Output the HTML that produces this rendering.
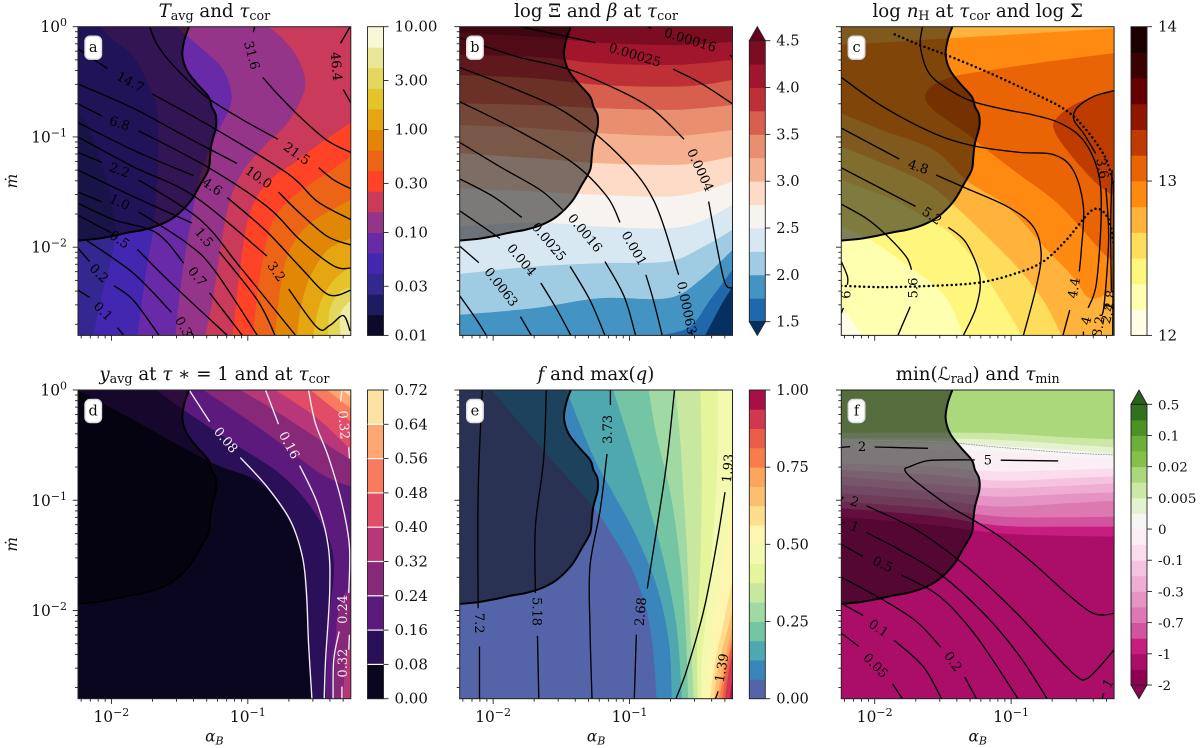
<!DOCTYPE html>
<html lang="en">
<head>
<meta charset="utf-8">
<title>Six-panel contour chart</title>
<style>
html,body{margin:0;padding:0;background:#fff}
svg{display:block;font-family:"DejaVu Serif","Liberation Serif",serif;fill:#111}
.ttl{font-size:18.2px;text-anchor:middle}
.sub{font-size:12.7px}
.it{font-style:italic}
</style>
</head>
<body>
<svg id="fig" xmlns="http://www.w3.org/2000/svg" width="1200" height="748" viewBox="0 0 1200 748">
<defs id="defs"></defs>
<g id="plots"></g>
<text class="ttl" x="214.4" y="17"><tspan class="it">T</tspan><tspan class="sub" dy="3">avg</tspan><tspan dy="-3"> and </tspan><tspan class="it">τ</tspan><tspan class="sub" dy="3">cor</tspan></text>
<text class="ttl" x="596" y="17">log Ξ and <tspan class="it">β</tspan> at <tspan class="it">τ</tspan><tspan class="sub" dy="3">cor</tspan></text>
<text class="ttl" x="977.7" y="17">log <tspan class="it">n</tspan><tspan class="sub" dy="3">H</tspan><tspan dy="-3"> at </tspan><tspan class="it">τ</tspan><tspan class="sub" dy="3">cor</tspan><tspan dy="-3"> and log Σ</tspan></text>
<text class="ttl" x="214.4" y="380"><tspan class="it">y</tspan><tspan class="sub" dy="3">avg</tspan><tspan dy="-3"> at </tspan><tspan class="it">τ</tspan> ∗ = 1 and at <tspan class="it">τ</tspan><tspan class="sub" dy="3">cor</tspan></text>
<text class="ttl" x="596" y="380"><tspan class="it">f</tspan> and max(<tspan class="it">q</tspan>)</text>
<text class="ttl" x="977.7" y="380">min(ℒ<tspan class="sub" dy="3">rad</tspan><tspan dy="-3">) and </tspan><tspan class="it">τ</tspan><tspan class="sub" dy="3">min</tspan></text>
</svg>
<script>
/* ---------- shared axis values (log10 units) ---------- */
const alphaRange = [-2.245, -0.245];
const mdotRange = [-2.8, 0];
const xMajorTicks = [-2, -1];
const yMajorTicks = [-2, -1, 0];
const minorMultipliers = [2, 3, 4, 5, 6, 7, 8, 9];
const maskBoundary = [[-1.431,0],[-1.465,-.121],[-1.48,-.257],[-1.448,-.393],[-1.375,-.514],[-1.289,-.634],[-1.265,-.725],[-1.235,-.801],[-1.233,-.906],[-1.265,-1.057],[-1.277,-1.178],[-1.289,-1.299],[-1.35,-1.435],[-1.423,-1.586],[-1.534,-1.722],[-1.644,-1.797],[-1.766,-1.843],[-1.864,-1.864],[-1.986,-1.897],[-2.108,-1.924],[-2.245,-1.94]];

/* ---------- panel a ---------- */
const aBackground = "#32288f";
const aBandColors = ["#4327b0","#692aa8","#94358a","#c93a5b","#ff4326","#ec6416","#e28605","#e5a612","#e5c42a","#e4d75e","#f0eca6"];
const aBands = [
[[-2.13,-2.8],[-2.08,-2.48],[-2.01,-2.145],[-1.97,-1.87],[-2,-1.57],[-2.08,-1.21],[-2.18,-.875],[-2.245,-.77]],
[[-1.81,-2.8],[-1.74,-2.175],[-1.69,-1.81],[-1.66,-1.27],[-1.66,-.785],[-1.72,-.54],[-1.84,-.27],[-1.985,-.12],[-2.08,0]],
[[-1.53,-2.8],[-1.48,-2.235],[-1.41,-1.72],[-1.35,-1.36],[-1.25,-1.03],[-1.14,-.755],[-1.12,-.6],[-1.18,-.39],[-1.3,-.24],[-1.45,-.08],[-1.52,0]],
[[-1.31,-2.8],[-1.25,-2.42],[-1.19,-1.93],[-1.13,-1.57],[-1.03,-1.3],[-.885,-1.09],[-.71,-.875],[-.6,-.63],[-.58,-.48],[-.64,-.27],[-.76,-.09],[-.85,0]],
[[-1.11,-2.8],[-1.07,-2.33],[-1.01,-1.81],[-.93,-1.54],[-.81,-1.36],[-.665,-1.24],[-.47,-1.06],[-.245,-.87]],
[[-.96,-2.8],[-.92,-2.33],[-.84,-1.84],[-.74,-1.63],[-.57,-1.45],[-.42,-1.33],[-.245,-1.18]],
[[-.8,-2.8],[-.76,-2.36],[-.69,-2.02],[-.54,-1.78],[-.245,-1.57]],
[[-.64,-2.8],[-.6,-2.48],[-.53,-2.235],[-.41,-2.02],[-.245,-1.92]],
[[-.52,-2.8],[-.47,-2.51],[-.37,-2.3],[-.245,-2.175]],
[[-.41,-2.8],[-.4,-2.57],[-.335,-2.42],[-.245,-2.36]],
[[-.32,-2.8],[-.32,-2.6],[-.245,-2.48]]
];
const aLines = [
[[-.25,0],[-.32,-.15]],[[-.3,-.57],[-.245,-.69]],
[[-.95,0],[-.96,-.05]],[[-.89,-.46],[-.79,-.6],[-.62,-.815],[-.42,-1.03],[-.245,-1.14]],
[[-1.72,0],[-1.67,-.15],[-1.57,-.32],[-1.42,-.51],[-1.28,-.66],[-1.03,-.85],[-.78,-1.02]],[[-.48,-1.28],[-.37,-1.39],[-.245,-1.47]],
[[-2.245,-.2],[-2.03,-.38]],[[-1.7,-.61],[-1.25,-.92],[-.71,-1.33],[-.49,-1.585],[-.245,-1.75]],
[[-2.245,-.52],[-1.84,-.74],[-1.45,-1],[-1.08,-1.24]],[[-.775,-1.5],[-.62,-1.69],[-.42,-1.9],[-.245,-1.98]],
[[-2.245,-.7],[-2.07,-.81]],[[-1.8,-.945],[-1.3,-1.27],[-.86,-1.63],[-.62,-1.93],[-.37,-2.17],[-.245,-2.19]],
[[-2.245,-.87],[-1.84,-1.12],[-1.4,-1.35]],[[-1.15,-1.55],[-.86,-1.86],[-.62,-2.175],[-.41,-2.43],[-.245,-2.39]],
[[-2.245,-1],[-1.84,-1.27],[-1.39,-1.54],[-.86,-2.08]],[[-.7,-2.38],[-.49,-2.73],[-.4,-2.71],[-.3,-2.62],[-.25,-2.76]],
[[-2.245,-1.14],[-2.07,-1.23]],[[-1.8,-1.39],[-1.35,-1.75],[-1.06,-2.175],[-.65,-2.8]],
[[-2.245,-1.3],[-1.84,-1.54],[-1.41,-1.78]],[[-1.21,-2.04],[-.93,-2.48],[-.8,-2.8]],
[[-2.245,-1.5],[-2.07,-1.59]],[[-1.8,-1.68],[-1.45,-1.96],[-1.25,-2.2],[-.93,-2.8]],
[[-2.245,-1.6],[-1.985,-1.75],[-1.67,-1.87],[-1.47,-2.145]],[[-1.28,-2.415],[-1.04,-2.8]],
[[-2.245,-1.71],[-2,-1.87]],[[-1.81,-2.02],[-1.55,-2.34],[-1.15,-2.8]],
[[-2.18,-1.94],[-1.84,-2.235],[-1.56,-2.59]],[[-1.42,-2.765],[-1.4,-2.8]],
[[-2.245,-2.01],[-2.16,-2.13]],[[-1.98,-2.35],[-1.84,-2.48],[-1.65,-2.8]],
[[-2.245,-2.39],[-2.16,-2.455]],[[-1.955,-2.73],[-1.91,-2.8]]
];
const aLabelText = ["46.4","31.6","21.5","14.7","10.0","6.8","4.6","3.2","2.2","1.5","1.0","0.7","0.5","0.3","0.2","0.1"];
const aLabelPos = [[-.35,-.36,85],[-.97,-.26,75],[-.64,-1.15,35],[-1.86,-.5,28],[-.92,-1.365,35],[-1.94,-.875,18],[-1.26,-1.45,35],[-.79,-2.22,55],[-1.94,-1.3,20],[-1.32,-1.91,50],[-1.94,-1.59,25],[-1.37,-2.265,50],[-1.94,-1.93,35],[-1.47,-2.72,60],[-2.09,-2.235,45],[-2.06,-2.58,45]];
const aBarColors = ["#0b0a28","#1d1c63","#32288f","#4327b0","#692aa8","#94358a","#c93a5b","#ff4326","#ec6416","#e28605","#e5a612","#e5c42a","#e4d75e","#e9e696","#f8f7d6"];
const aBarTicks = [0.01,0.03,0.1,0.3,1,3,10];
const aBarTickLabels = ["0.01","0.03","0.10","0.30","1.00","3.00","10.00"];

/* ---------- panel b ---------- */
const bBackground = "#7b0c22";
const bAlphaColumns = [-2.245,-1.7,-1.21,-.72,-.48,-.245];
const bRowColors = ["#a1162d","#be3036","#d6604d","#ea8e70","#f5b090","#fddbc7","#f7f4f0","#d8e8f2","#a0cce3","#4393c3"];
const bRows = [
[-.06,-.09,-.145,-.166,-.157,-.136],
[-.257,-.272,-.332,-.347,-.332,-.302],
[-.438,-.468,-.529,-.544,-.529,-.483],
[-.695,-.71,-.74,-.755,-.74,-.71],
[-.891,-.921,-.967,-.991,-.973,-.937],
[-1.148,-1.193,-1.239,-1.254,-1.233,-1.178],
[-1.465,-1.495,-1.526,-1.541,-1.495,-1.405],
[-1.813,-1.776,-1.813,-1.828,-1.767,-1.616],
[-2.242,-2.175,-2.145,-2.13,-2.009,-1.843],
[-2.613,-2.553,-2.462,-2.462,-2.296,-2.024]
];
const bCornerColors = ["#1f68ac","#053061"];
const bCornerBands = [
[[-.775,-2.8],[-.555,-2.72],[-.41,-2.48],[-.245,-2.205]],
[[-.445,-2.8],[-.335,-2.54],[-.245,-2.36]]
];
const bLines = [
[[-.87,0],[-.84,-.015]],[[-.265,-.255],[-.245,-.28]],
[[-1.8,0],[-1.25,-.145]],[[-.68,-.385],[-.48,-.51],[-.245,-.7]],
[[-2.245,-.1],[-1.83,-.27],[-1.46,-.38],[-1.09,-.57],[-.825,-.755],[-.6,-1.02]],[[-.42,-1.585],[-.36,-1.99],[-.3,-2.325],[-.245,-2.37]],
[[-2.245,-.37],[-1.83,-.57],[-1.46,-.785],[-1.09,-1.15],[-.825,-1.57],[-.64,-2.25]],[[-.55,-2.75],[-.54,-2.8]],
[[-2.245,-.68],[-1.83,-.935],[-1.41,-1.24],[-1.165,-1.54],[-1.07,-1.775]],[[-.88,-2.25],[-.825,-2.48],[-.76,-2.8]],
[[-2.245,-1.05],[-1.95,-1.27],[-1.655,-1.48],[-1.49,-1.66]],[[-1.18,-2.13],[-1.04,-2.445],[-.955,-2.8]],
[[-2.245,-1.38],[-2,-1.54],[-1.79,-1.73]],[[-1.435,-2.175],[-1.29,-2.48],[-1.18,-2.8]],
[[-2.245,-1.67],[-1.95,-1.92]],[[-1.65,-2.325],[-1.53,-2.57],[-1.43,-2.8]],
[[-2.245,-1.99],[-2.105,-2.14]],[[-1.8,-2.63],[-1.72,-2.8]],
[[-2.245,-2.44],[-2.12,-2.66],[-2.05,-2.8]]
];
const bLabelText = ["0.00016","0.00025","0.0004","0.00063","0.001","0.0016","0.0025","0.004","0.0063"];
const bLabelPos = [[-.555,-.12,17],[-.96,-.255,17],[-.48,-1.3,65],[-.58,-2.55,78],[-.965,-2.01,60],[-1.325,-1.87,50],[-1.59,-1.95,50],[-1.79,-2.115,50],[-1.94,-2.36,52]];
const bBarColors = ["#1f68ac","#4393c3","#a0cce3","#d8e8f2","#f7f4f0","#fddbc7","#f5b090","#ea8e70","#d6604d","#be3036","#a1162d","#7b0c22"];
const bBarTicks = [1.5,2,2.5,3,3.5,4,4.5];
const bBarTickLabels = ["1.5","2.0","2.5","3.0","3.5","4.0","4.5"];

/* ---------- panel c ---------- */
const cBackground = "#fffde6";
const cBandColors = ["#ffffb0","#fff77d","#ffdd5c","#ffb23c","#ff8a12","#ffb23c","#e86405","#bf3c00"];
const cBands = [
[[-2.086,-2.8],[-2.245,-2.55]],
[[-1.35,-2.8],[-1.5,-2.42],[-1.82,-2.115],[-2.01,-1.95],[-2.245,-1.81]],
[[-.924,-2.8],[-1.06,-2.51],[-1.254,-2.145],[-1.45,-1.87],[-1.645,-1.72],[-1.865,-1.57],[-2.245,-1.39]],
[[-.63,-2.8],[-.765,-2.48],[-.96,-2.175],[-1.23,-1.84],[-1.41,-1.63],[-1.62,-1.42],[-1.94,-1.24],[-2.245,-1.09]],
[[-.245,-2.39],[-.42,-2.465],[-.545,-2.27],[-.74,-2.02],[-1.03,-1.63],[-1.315,-1.405],[-1.57,-1.115],[-1.94,-.94],[-2.245,-.785]],
[[-.245,-.015],[-.84,-.06],[-1.45,-.105],[-1.82,-.135],[-2.245,-.165]],
[[-.245,-2.13],[-.325,-2.055],[-.5,-1.81],[-.69,-1.57],[-.985,-1.3],[-1.18,-1.115],[-1.33,-.965],[-1.57,-.755],[-1.63,-.635],[-1.57,-.53],[-1.4,-.445],[-1.08,-.38],[-.72,-.315],[-.245,-.24]],
[[-.245,-1.54],[-.4,-1.39],[-.594,-1.115],[-.69,-.92],[-.655,-.815],[-.52,-.695],[-.245,-.575]]
];
const cLines = [
[[-.245,-.58],[-.4,-.635],[-.52,-.74],[-.54,-.845],[-.47,-.965],[-.38,-1.15]],[[-.305,-1.465],[-.285,-1.93],[-.32,-2.54],[-.35,-2.62]],
[[-1.65,0],[-1.665,-.18],[-1.6,-.425],[-1.45,-.575],[-1.28,-.68],[-1.03,-.755],[-.84,-.8],[-.64,-.875],[-.47,-1.03],[-.36,-1.33],[-.34,-1.72],[-.375,-2.33],[-.435,-2.55]],[[-.47,-2.765],[-.47,-2.8]],
[[-2.245,-.46],[-1.94,-.725],[-1.57,-.965],[-1.28,-1.08],[-.94,-1.14],[-.69,-1.16],[-.545,-1.3],[-.47,-1.63],[-.485,-2.02],[-.5,-2.22]],[[-.57,-2.57],[-.62,-2.8]],
[[-2.245,-.92],[-1.82,-1.2]],[[-1.55,-1.345],[-1.33,-1.465],[-1.03,-1.63],[-.84,-1.81],[-.78,-2.05],[-.815,-2.355],[-.91,-2.8]],
[[-2.245,-1.28],[-1.7,-1.63]],[[-1.46,-1.82],[-1.33,-1.96],[-1.23,-2.265],[-1.255,-2.54],[-1.35,-2.8]],
[[-2.245,-1.61],[-2.06,-1.74],[-1.915,-1.89],[-1.77,-2.085],[-1.73,-2.205]],[[-1.74,-2.54],[-1.83,-2.8]],
[[-2.245,-2.13],[-2.2,-2.265],[-2.2,-2.34]],[[-2.23,-2.55],[-2.245,-2.6]],
[[-.26,-1.3],[-.27,-1.81],[-.265,-2.4]],
[[-.25,-1.39],[-.25,-1.81],[-.255,-2.8]],
[[-.39,-2.8],[-.38,-2.78]]
];
const cLabelText = ["3.6","4","4.4","4.8","5.2","5.6","6","3.2","2.8","2.4"];
const cLabelPos = [[-.33,-1.285,80],[-.45,-2.665,-75],[-.54,-2.37,-80],[-1.68,-1.27,18],[-1.58,-1.715,35],[-1.72,-2.37,-90],[-2.21,-2.43,-90],[-.36,-2.72,-80],[-.275,-2.48,-85],[-.29,-2.6,-75]];
const cDotted = [
[[-1.853,-.07],[-1.67,-.166],[-1.474,-.257],[-1.18,-.408],[-.888,-.574],[-.62,-.74],[-.47,-.906],[-.313,-1.178],[-.245,-1.45]],
[[-2.245,-2.35],[-1.94,-2.362],[-1.572,-2.35],[-1.23,-2.32],[-.96,-2.235],[-.765,-2.13],[-.594,-1.933],[-.4,-1.66],[-.29,-1.736],[-.245,-1.99]]
];
const cBarColors = ["#fffde6","#ffffb0","#fff77d","#ffdd5c","#ffb23c","#ff8a12","#e86405","#bf3c00","#8f1700","#660000","#3b0000","#1b0000"];
const cBarTicks = [12,13,14];
const cBarTickLabels = ["12","13","14"];

/* ---------- panel d ---------- */
const dBackground = "#0a0620";
const dBandColors = ["#2a1058","#5c1a7c","#872878","#872878","#b73779","#b73779","#e14c66","#fa7a5e","#fea772","#fde2a3"];
const dBands = [
[[-.53,-2.8],[-.555,-2.3],[-.58,-1.84],[-.6,-1.54],[-.69,-1.21],[-.91,-.845],[-1.28,-.65],[-1.84,-.27],[-2.245,0]],
[[-.43,-2.8],[-.41,-2.145],[-.37,-1.54],[-.49,-1.15],[-.74,-.785],[-1.105,-.483],[-1.47,-.18],[-1.67,0]],
[[-.245,-.876],[-.47,-.755],[-.86,-.393],[-1.325,0]],
[[-.37,-2.8],[-.35,-2.145],[-.31,-1.9],[-.245,-1.78]],
[[-.245,-.634],[-.49,-.438],[-.81,-.18],[-1.055,0]],
[[-.3,-2.8],[-.285,-2.447],[-.245,-2.296]],
[[-.245,-.544],[-.49,-.257],[-.8,0]],
[[-.245,-.287],[-.42,-.12],[-.54,0]],
[[-.245,-.166],[-.42,0]],
[[-.245,-.06],[-.31,0]]
];
const dLines = [
[[-1.43,0],[-1.28,-.287]],[[-1.055,-.613],[-.86,-.876],[-.69,-1.18],[-.6,-1.51],[-.57,-1.84],[-.555,-2.296],[-.53,-2.8]],
[[-.87,0],[-.775,-.31]],[[-.62,-.686],[-.49,-1.03],[-.41,-1.42],[-.4,-1.84],[-.43,-2.447],[-.44,-2.8]],
[[-.555,0],[-.505,-.3],[-.41,-.604],[-.31,-1.027],[-.255,-1.42],[-.26,-1.84]],[[-.33,-2.19],[-.37,-2.447],[-.375,-2.8]],
[[-.31,0],[-.32,-.106]],[[-.26,-.52],[-.255,-.62]],
[[-.255,-2.22],[-.26,-2.356]],[[-.31,-2.69],[-.31,-2.8]]
];
const dLabelText = ["0.08","0.16","0.24","0.32","0.32"];
const dLabelPos = [[-1.16,-.453,50],[-.695,-.5,62],[-.305,-1.99,-90],[-.295,-.317,85],[-.305,-2.477,-90]];
const dBarColors = ["#0a0620","#2a1058","#5c1a7c","#872878","#b73779","#e14c66","#fa7a5e","#fea772","#fde2a3"];
const dBarTicks = [0,.08,.16,.24,.32,.4,.48,.56,.64,.72];
const dBarTickLabels = ["0.00","0.08","0.16","0.24","0.32","0.40","0.48","0.56","0.64","0.72"];

/* ---------- panel e ---------- */
const eBackground = "#5464a9";
const eBandColors = ["#3a85bb","#4fa8b0","#74c5a4","#a0d9a4","#c8e89f","#e4f59b","#f3fab0","#fef5ae","#fedd8d","#fdbf6f","#fca55d","#f77d4a","#e95c47","#cf384d","#a70f49"];
const eBands = [
[[-.8,-2.8],[-.85,-2.145],[-.97,-1.66],[-1.165,-1.239],[-1.31,-.997],[-1.655,-.514],[-2.01,0]],
[[-.69,-2.8],[-.71,-2.296],[-.8,-1.78],[-.96,-1.3],[-1.12,-.937],[-1.265,-.604],[-1.435,-.09],[-1.46,0]],
[[-.615,-2.8],[-.655,-2.145],[-.75,-1.54],[-.87,-.997],[-.995,-.483],[-1.12,0]],
[[-.57,-2.8],[-.59,-2.145],[-.63,-1.54],[-.7,-.937],[-.8,-.423],[-.86,0]],
[[-.53,-2.8],[-.555,-2.145],[-.58,-1.42],[-.605,-.937],[-.63,-.423],[-.665,0]],
[[-.5,-2.8],[-.505,-2.296],[-.48,-1.54],[-.47,-.785],[-.48,0]],
[[-.47,-2.8],[-.47,-2.447],[-.41,-1.69],[-.36,-.785],[-.35,0]],
[[-.44,-2.8],[-.42,-2.447],[-.35,-1.84],[-.26,-1.088],[-.245,-.725]],
[[-.41,-2.8],[-.37,-2.447],[-.3,-2.054],[-.245,-1.72]],
[[-.38,-2.8],[-.35,-2.508],[-.275,-2.145],[-.245,-1.994]],
[[-.36,-2.8],[-.32,-2.538],[-.245,-2.145]],
[[-.345,-2.8],[-.3,-2.538],[-.245,-2.24]],
[[-.32,-2.8],[-.29,-2.538],[-.245,-2.3]],
[[-.3,-2.8],[-.27,-2.538],[-.245,-2.39]],
[[-.265,-2.8],[-.245,-2.6]]
];
const eLines = [
[[-2.08,0],[-2.11,-.937],[-2.11,-1.98]],[[-2.1,-2.326],[-2.1,-2.8]],
[[-1.61,0],[-1.63,-.634],[-1.69,-1.239],[-1.69,-1.84]],[[-1.675,-2.23],[-1.665,-2.8]],
[[-1.14,0],[-1.14,-.136]],[[-1.165,-.58],[-1.215,-1.088],[-1.29,-1.6],[-1.29,-2.145],[-1.275,-2.8]],
[[-.67,0],[-.725,-.634],[-.79,-1.178],[-.87,-1.8]],[[-.95,-2.22],[-.965,-2.8]],
[[-.3,-.927],[-.36,-1.39],[-.455,-1.994],[-.58,-2.538],[-.66,-2.8]],
[[-.35,-2.734],[-.37,-2.8]]
];
const eLabelText = ["7.2","5.18","3.73","2.68","1.93","1.39"];
const eLabelPos = [[-2.1,-2.115,90],[-1.68,-2.01,90],[-1.16,-.356,-90],[-.92,-2.01,-85],[-.28,-.71,-85],[-.325,-2.52,-80]];
const eBarColors = ["#5464a9","#3a85bb","#4fa8b0","#74c5a4","#a0d9a4","#c8e89f","#e4f59b","#f3fab0","#fef5ae","#fedd8d","#fdbf6f","#fca55d","#f77d4a","#e95c47","#cf384d","#a70f49"];
const eBarTicks = [0,.25,.5,.75,1];
const eBarTickLabels = ["0.00","0.25","0.50","0.75","1.00"];

/* ---------- panel f ---------- */
const fBackground = "#aad87a";
const fAlphaColumns = [-2.245,-1.572,-1.083,-.594,-.245];
const fRowColors = ["#cbe8a5","#e4f2d0","#f6f6f4","#fbeef5","#fbdcec","#f5c3e0","#eeadd3","#e593c4","#dc79b3","#d2539e","#c81d80","#aa0e68"];
const fRows = [
[-.387,-.387,-.393,-.429,-.447],
[-.438,-.438,-.453,-.492,-.52],
[-.462,-.483,-.508,-.544,-.58],
[-.529,-.544,-.559,-.604,-.619],
[-.665,-.695,-.74,-.725,-.71],
[-.725,-.77,-.822,-.8,-.785],
[-.785,-.852,-.891,-.87,-.846],
[-.861,-.921,-.967,-.943,-.93],
[-.937,-.997,-1.057,-1.027,-1.003],
[-1.012,-1.073,-1.148,-1.154,-1.148],
[-1.073,-1.142,-1.23,-1.239,-1.239],
[-1.148,-1.224,-1.3,-1.323,-1.329]
];
const fLines = [
[[-2.245,-.52],[-2.18,-.514]],[[-2,-.517],[-1.61,-.529]],
[[-.655,-.643],[-1.076,-.637]],[[-1.267,-.634],[-1.45,-.634],[-1.62,-.643],[-1.743,-.695],[-1.78,-.72],[-1.743,-.785],[-1.62,-.906],[-1.45,-1.057],[-1.28,-1.178],[-1.083,-1.33],[-.839,-1.57],[-.594,-1.843],[-.423,-2.01],[-.325,-2.04],[-.245,-2.024]],
[[-2.245,-.997],[-2.23,-.967]],[[-2.06,-1.051],[-1.694,-1.269],[-1.328,-1.6],[-.96,-2.024],[-.69,-2.387],[-.52,-2.598],[-.447,-2.62],[-.35,-2.508],[-.245,-2.356]],
[[-2.245,-1.208],[-2.22,-1.2]],[[-2.06,-1.293],[-1.817,-1.45],[-1.5,-1.69],[-1.18,-2.054],[-.936,-2.417],[-.736,-2.8]],
[[-2.245,-1.399],[-2.086,-1.51]],[[-1.804,-1.677],[-1.523,-1.873],[-1.254,-2.236],[-.95,-2.8]],
[[-2.245,-1.698],[-1.94,-1.903],[-1.694,-2.1],[-1.516,-2.332]],[[-1.34,-2.604],[-1.254,-2.8]],
[[-2.245,-1.934],[-2.086,-2.045]],[[-1.858,-2.27],[-1.645,-2.508],[-1.51,-2.8]],
[[-2.245,-2.205],[-2.117,-2.326]],[[-1.87,-2.665],[-1.797,-2.8]],
[[-.333,-2.8],[-.32,-2.75]]
];
const fLabelText = ["2","5","2","1","0.5","0.2","0.1","0.05","1"];
const fLabelPos = [[-2.093,-.514,0],[-1.17,-.634,0],[-2.147,-1.012,20],[-2.147,-1.239,20],[-1.94,-1.58,25],[-1.425,-2.462,55],[-1.97,-2.16,35],[-1.993,-2.498,45],[-.29,-2.66,-60]];
const fDotted = [[[-2.245,-.453],[-1.572,-.468],[-1.083,-.52],[-.594,-.568],[-.245,-.589]]];
const fBarColors = ["#8e0152","#aa0e68","#c81d80","#d2539e","#dc79b3","#e593c4","#eeadd3","#f5c3e0","#fbdcec","#fbeef5","#f6f6f4","#e4f2d0","#cbe8a5","#aad87a","#86bf4a","#6cb03a","#4b9126","#30701e"];
const fBarTickLabels = ["-2","-1","-0.7","-0.3","-0.1","0","0.005","0.02","0.1","0.5"];

/* ---------- drawing ---------- */
const NS = "http://www.w3.org/2000/svg";
const plots = document.getElementById("plots");
const defs = document.getElementById("defs");
function mk(tag, attrs, parent) {
  const el = document.createElementNS(NS, tag);
  for (const k in attrs) el.setAttribute(k, attrs[k]);
  if (parent) parent.appendChild(el);
  return el;
}
const PW = 272.8, PH = 308.7;
function sx(p, a) { return p.x + (a - alphaRange[0]) / (alphaRange[1] - alphaRange[0]) * PW; }
function sy(p, m) { return p.y + (mdotRange[1] - m) / (mdotRange[1] - mdotRange[0]) * PH; }
function smooth(p, pts) {
  const q = pts.map(d => [sx(p, d[0]), sy(p, d[1])]);
  let s = "M" + q[0][0].toFixed(2) + " " + q[0][1].toFixed(2);
  for (let i = 0; i < q.length - 1; i++) {
    const a = q[Math.max(i - 1, 0)], b = q[i], c = q[i + 1], d = q[Math.min(i + 2, q.length - 1)];
    const c1 = [b[0] + (c[0] - a[0]) / 6, b[1] + (c[1] - a[1]) / 6];
    const c2 = [c[0] - (d[0] - b[0]) / 6, c[1] - (d[1] - b[1]) / 6];
    s += "C" + c1[0].toFixed(2) + " " + c1[1].toFixed(2) + " " + c2[0].toFixed(2) + " " + c2[1].toFixed(2) + " " + c[0].toFixed(2) + " " + c[1].toFixed(2);
  }
  return s;
}
function edgeOf(pt) {
  if (Math.abs(pt[1] - mdotRange[1]) < 0.012) return 0;
  if (Math.abs(pt[0] - alphaRange[1]) < 0.012) return 1;
  if (Math.abs(pt[1] - mdotRange[0]) < 0.012) return 2;
  return 3;
}
function regionPath(p, pts) {
  const corners = [[alphaRange[1], mdotRange[1]], [alphaRange[1], mdotRange[0]], [alphaRange[0], mdotRange[0]], [alphaRange[0], mdotRange[1]]];
  let s = smooth(p, pts);
  let e = edgeOf(pts[pts.length - 1]);
  const start = edgeOf(pts[0]);
  let guard = 0;
  while (e !== start && guard++ < 4) {
    s += "L" + sx(p, corners[e][0]).toFixed(2) + " " + sy(p, corners[e][1]).toFixed(2);
    e = (e + 1) % 4;
  }
  return s + "Z";
}
function zipRows(columns, row) { return columns.map((a, i) => [a, row[i]]); }

function drawPanel(p) {
  const g = mk("g", {}, plots);
  
  
  const clip = mk("clipPath", { id: "clip-" + p.id }, defs);
  mk("rect", { x: p.x, y: p.y, width: PW, height: PH }, clip);
  const area = mk("g", { "clip-path": "url(#clip-" + p.id + ")" }, g);
  const bg = mk("rect", { x: p.x, y: p.y, width: PW, height: PH, fill: p.background }, area);
  
  
  p.bands.forEach((b, i) => {
    const band = mk("path", { d: regionPath(p, b), fill: p.bandColors[i] }, area);
    
    
  });
  const mask = mk("path", { d: regionPath(p, maskBoundary), fill: "#000", "fill-opacity": 0.5 }, area);
  
  
  p.lines.forEach(seg => {
    const line = mk("path", { d: smooth(p, seg), fill: "none", stroke: p.lineColor, "stroke-width": 1.35 }, area);
    
    
  });
  (p.dotted || []).forEach(seg => {
    const dot = mk("path", { d: smooth(p, seg), fill: "none", stroke: p.dotColor, "stroke-width": p.dotWidth, "stroke-linecap": "round", "stroke-dasharray": p.dotDash }, area);
    
    
  });
  const edge = mk("path", { d: smooth(p, maskBoundary), fill: "none", stroke: "#000", "stroke-width": 2 }, area);
  
  
  p.labelText.forEach((t, i) => {
    const pos = p.labelPos[i];
    const x = sx(p, pos[0]), y = sy(p, pos[1]);
    const lab = mk("text", { x: x, y: y + 4.5, "text-anchor": "middle", "font-size": 13, fill: p.lineColor, transform: "rotate(" + pos[2] + " " + x + " " + y + ")" }, area);
    lab.textContent = t;
    
    
  });
  const tag = mk("rect", { x: p.x + 7, y: p.y + 9.5, width: 16.5, height: 23, rx: 5, fill: "#fff", stroke: "#ddd", "stroke-width": 1.4 }, g);
  
  
  const tagText = mk("text", { x: p.x + 15.2, y: p.y + 25.5, "text-anchor": "middle", "font-size": 14.5 }, g);
  tagText.textContent = p.id;
  
  
  const frame = mk("rect", { x: p.x, y: p.y, width: PW, height: PH, fill: "none", stroke: "#222", "stroke-width": 1 }, g);
  
  

  function tick(x1, y1, x2, y2, nm) {
    const t = mk("line", { x1: x1, y1: y1, x2: x2, y2: y2, stroke: "#222", "stroke-width": 0.9 }, g);
    
    
  }
  function power(x, y, exp, anchor, nm) {
    const t = mk("text", { x: x, y: y, "text-anchor": anchor, "font-size": 15.4 }, g);
    const a = mk("tspan", {}, t);
    a.textContent = "10";
    const b = mk("tspan", { dy: -6, "font-size": 11 }, t);
    b.textContent = exp === 0 ? "0" : "\u2212" + Math.abs(exp);
    
    
  }
  const bottom = p.y + PH;
  for (let d = -3; d <= 0; d++) {
    minorMultipliers.forEach(k => {
      const a = d + Math.log10(k);
      if (a > alphaRange[0] && a < alphaRange[1]) tick(sx(p, a), bottom, sx(p, a), bottom + 3, 'x-minor-tick');
      if (a > mdotRange[0] && a < mdotRange[1]) tick(p.x, sy(p, a), p.x - 3, sy(p, a), 'y-minor-tick');
    });
  }
  xMajorTicks.forEach(a => {
    tick(sx(p, a), bottom, sx(p, a), bottom + 5.3, 'x-major-tick');
    if (p.showX) power(sx(p, a), bottom + 23.5, a, "middle", 'x-tick-label');
  });
  yMajorTicks.forEach(m => {
    tick(p.x, sy(p, m), p.x - 5.3, sy(p, m), 'y-major-tick');
    if (p.showY) power(p.x - 11, sy(p, m) + 5.5, m, "end", 'y-tick-label');
  });
  if (p.showX) {
    const xl = mk("text", { x: p.x + PW / 2, y: p.y + PH + 43, "text-anchor": "middle", "font-size": 15.4, "font-style": "italic" }, g);
    const xa = mk("tspan", {}, xl);
    xa.textContent = "α";
    const xb = mk("tspan", { dy: 3, "font-size": 11 }, xl);
    xb.textContent = "B";
    
    
  }
  if (p.showY) {
    const cx = 17, cy = p.y + PH / 2;
    const yl = mk("text", { x: cx, y: cy, "text-anchor": "middle", "font-size": 15.4, "font-style": "italic", transform: "rotate(-90 " + cx + " " + cy + ")" }, g);
    yl.textContent = "ṁ";
    
    
  }
}

function drawBar(c) {
  const g = mk("g", {}, plots);
  
  
  const W = 16;
  const n = c.colors.length;
  const h = (c.bottom - c.top) / n;
  c.colors.forEach((col, i) => {
    const r = mk("rect", { x: c.x, y: c.bottom - (i + 1) * h, width: W, height: h + 0.4, fill: col }, g);
    
    
  });
  if (c.tips) {
    const t1 = mk("polygon", { points: c.x + "," + c.top + " " + (c.x + W / 2) + "," + c.tipTop + " " + (c.x + W) + "," + c.top, fill: c.tips[1], stroke: "#222", "stroke-width": 0.9 }, g);
    
    
    const t2 = mk("polygon", { points: c.x + "," + c.bottom + " " + (c.x + W / 2) + "," + c.tipBottom + " " + (c.x + W) + "," + c.bottom, fill: c.tips[0], stroke: "#222", "stroke-width": 0.9 }, g);
    
    
  }
  const o = mk("rect", { x: c.x, y: c.top, width: W, height: c.bottom - c.top, fill: "none", stroke: "#222", "stroke-width": 0.9 }, g);
  
  
  c.ticks.forEach((v, i) => {
    const y = c.bottom - c.scale(v, i) * (c.bottom - c.top);
    if (c.whiteLines && i > 0 && i < c.ticks.length - 1) {
      const w = mk("line", { x1: c.x, x2: c.x + W, y1: y, y2: y, stroke: "#fff", "stroke-width": 1.2 }, g);
      
      
    }
    const t = mk("line", { x1: c.x + W, x2: c.x + W + 5, y1: y, y2: y, stroke: "#222", "stroke-width": 0.9 }, g);
    
    
    const lab = mk("text", { x: c.x + W + c.pad, y: y + 5, "font-size": c.font }, g);
    lab.textContent = c.labels[i];
    
    
  });
}

const common = { lineColor: "#000" };
drawPanel({ ...common, id: "a", x: 78, y: 26.7, showX: false, showY: true, background: aBackground, bands: aBands, bandColors: aBandColors, lines: aLines, labelText: aLabelText, labelPos: aLabelPos });
drawPanel({ ...common, id: "b", x: 459.7, y: 26.7, showX: false, showY: false, background: bBackground,
  bands: bRows.map(r => zipRows(bAlphaColumns, r)).concat(bCornerBands), bandColors: bRowColors.concat(bCornerColors),
  lines: bLines, labelText: bLabelText, labelPos: bLabelPos });
drawPanel({ ...common, id: "c", x: 841.3, y: 26.7, showX: false, showY: false, background: cBackground, bands: cBands, bandColors: cBandColors, lines: cLines, labelText: cLabelText, labelPos: cLabelPos, dotted: cDotted, dotColor: "#000", dotWidth: 2.5, dotDash: "0 4.6" });
drawPanel({ id: "d", lineColor: "#f4f0f4", x: 78, y: 390, showX: true, showY: true, background: dBackground, bands: dBands, bandColors: dBandColors, lines: dLines, labelText: dLabelText, labelPos: dLabelPos });
drawPanel({ ...common, id: "e", x: 459.7, y: 390, showX: true, showY: false, background: eBackground, bands: eBands, bandColors: eBandColors, lines: eLines, labelText: eLabelText, labelPos: eLabelPos });
drawPanel({ ...common, id: "f", x: 841.3, y: 390, showX: true, showY: false, background: fBackground,
  bands: fRows.map(r => zipRows(fAlphaColumns, r)), bandColors: fRowColors,
  lines: fLines, labelText: fLabelText, labelPos: fLabelPos, dotted: fDotted, dotColor: "#8a8a8a", dotWidth: 0.8, dotDash: "1 1.6" });

drawBar({ id: "a", x: 367.5, top: 26.7, bottom: 335.4, colors: aBarColors, ticks: aBarTicks, labels: aBarTickLabels, pad: 11, font: 15, scale: v => Math.log10(v / aBarTicks[0]) / 3 });
drawBar({ id: "b", x: 749.3, top: 40.7, bottom: 321.7, tipTop: 26.7, tipBottom: 335.4, tips: ["#053061", "#67001f"], colors: bBarColors, ticks: bBarTicks, labels: bBarTickLabels, pad: 11, font: 14.6, scale: v => (v - 1.5) / 3 });
drawBar({ id: "c", x: 1131, top: 26.7, bottom: 335.4, colors: cBarColors, ticks: cBarTicks, labels: cBarTickLabels, pad: 11, font: 15, scale: v => (v - 12) / 2 });
drawBar({ id: "d", x: 367.5, top: 390, bottom: 698.7, colors: dBarColors, ticks: dBarTicks, labels: dBarTickLabels, whiteLines: true, pad: 11, font: 15, scale: v => v / 0.72 });
drawBar({ id: "e", x: 749.3, top: 390, bottom: 698.7, colors: eBarColors, ticks: eBarTicks, labels: eBarTickLabels, pad: 11, font: 14.6, scale: v => v });
drawBar({ id: "f", x: 1131, top: 404.3, bottom: 685, tipTop: 390, tipBottom: 698.7, tips: ["#8e0152", "#276419"], colors: fBarColors, ticks: fBarTickLabels, labels: fBarTickLabels, pad: 11, font: 13.4, scale: (v, i) => i / (fBarTickLabels.length - 1) });
</script>
</body>
</html>
